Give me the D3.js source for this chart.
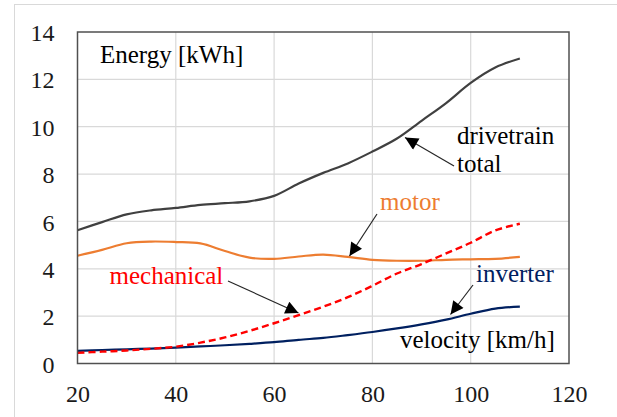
<!DOCTYPE html>
<html><head><meta charset="utf-8">
<script src="https://cdn.jsdelivr.net/npm/d3@7"></script>
</head><body style="margin:0">
<svg id="chart" width="617" height="417"></svg>
<script>
const velocity = [20,25,30,35,40,45,50,55,60,65,70,75,80,85,90,95,100,105,110];
const drivetrain = [5.63,5.97,6.3,6.47,6.57,6.7,6.77,6.85,7.08,7.6,8.05,8.45,8.95,9.5,10.25,11.0,11.85,12.5,12.88];
const motor = [4.55,4.8,5.08,5.15,5.13,5.07,4.75,4.47,4.42,4.52,4.6,4.5,4.38,4.34,4.34,4.38,4.4,4.42,4.5];
const mechanical = [0.45,0.5,0.55,0.62,0.71,0.88,1.1,1.38,1.7,2.04,2.4,2.8,3.28,3.8,4.2,4.65,5.1,5.62,5.9];
const inverter = [0.53,0.57,0.6,0.63,0.67,0.72,0.77,0.83,0.9,1.0,1.08,1.2,1.33,1.48,1.65,1.85,2.1,2.32,2.4];
const xTicks = [20,40,60,80,100,120];
const yTicks = [0,2,4,6,8,10,12,14];

const svg = d3.select("#chart");
const font = "'Liberation Serif', 'Times New Roman', Tinos, serif";
const L = 77.5, R = 569, T = 32, B = 363.5;
const x = d3.scaleLinear().domain([20,120]).range([L,R]);
const y = d3.scaleLinear().domain([0,14]).range([B,T]);

svg.append("rect").attr("x",14.5).attr("y",4.5).attr("width",640).attr("height",440)
  .attr("fill","none").attr("stroke","#d9d9d9").attr("stroke-width",1);

svg.append("g").selectAll("line").data(xTicks.slice(1,-1)).join("line")
  .attr("x1",d=>x(d)).attr("x2",d=>x(d)).attr("y1",T).attr("y2",B)
  .attr("stroke","#d9d9d9").attr("stroke-width",1.2);
svg.append("g").selectAll("line").data(yTicks.slice(1,-1)).join("line")
  .attr("x1",L).attr("x2",R).attr("y1",d=>y(d)).attr("y2",d=>y(d))
  .attr("stroke","#d9d9d9").attr("stroke-width",1.2);

const xAxis = svg.append("g").attr("transform",`translate(0,${B})`)
  .call(d3.axisBottom(x).tickValues(xTicks).tickSize(0).tickPadding(0));
xAxis.select(".domain").remove();
xAxis.attr("font-family",font).attr("font-size",24);
xAxis.selectAll("text").attr("y",38.5).attr("dy",0).attr("fill","#1a1a1a")
  .style("font-family",font,"important").style("font-size","24px","important");
const yAxis = svg.append("g").attr("transform",`translate(${L},0)`)
  .call(d3.axisLeft(y).tickValues(yTicks).tickSize(0).tickPadding(0));
yAxis.select(".domain").remove();
yAxis.attr("font-family",font).attr("font-size",24);
yAxis.selectAll("text").attr("x",-23).attr("dy","0.36em").attr("fill","#1a1a1a")
  .style("font-family",font,"important").style("font-size","24px","important");

const line = d3.line().x((d,i)=>x(velocity[i])).y(d=>y(d)).curve(d3.curveCatmullRom.alpha(0.5));
const series = [
  {v:drivetrain, c:"#404040", w:2.2},
  {v:motor, c:"#ed7d31", w:2.2},
  {v:inverter, c:"#002060", w:2.2},
  {v:mechanical, c:"#ff0000", w:2.4, dash:"7,4"}
];
series.forEach(s=>{
  svg.append("path").attr("d",line(s.v)).attr("fill","none").attr("stroke",s.c)
    .attr("stroke-width",s.w).attr("stroke-dasharray",s.dash||null);
});

svg.append("rect").attr("x",L).attr("y",T).attr("width",R-L).attr("height",B-T)
  .attr("fill","none").attr("stroke","#505050").attr("stroke-width",1.5);

svg.append("defs").append("marker").attr("id","ah").attr("viewBox","0 0 10 10")
  .attr("refX",10).attr("refY",5).attr("markerWidth",15).attr("markerHeight",13)
  .attr("markerUnits","userSpaceOnUse").attr("orient","auto")
  .append("path").attr("d","M0,0 L10,5 L0,10 Z").attr("fill","#000");
const arrows = [
  [454,166,405,137.5],
  [377,214,349.5,256],
  [228,281,298.5,313],
  [473,285,450.5,314.5]
];
svg.append("g").selectAll("line").data(arrows).join("line")
  .attr("x1",d=>d[0]).attr("y1",d=>d[1]).attr("x2",d=>d[2]).attr("y2",d=>d[3])
  .attr("stroke","#262626").attr("stroke-width",1.2).attr("marker-end","url(#ah)");

const labels = [
  {t:"Energy [kWh]", x:100, y:63, c:"#000"},
  {t:"drivetrain", x:457, y:143.5, c:"#000"},
  {t:"total", x:457, y:172, c:"#000"},
  {t:"motor", x:380, y:210, c:"#ed7d31"},
  {t:"mechanical", x:109.5, y:283.5, c:"#ff0000"},
  {t:"inverter", x:476, y:282, c:"#002060"},
  {t:"velocity [km/h]", x:400, y:347.5, c:"#000"}
];
svg.append("g").selectAll("text").data(labels).join("text")
  .attr("x",d=>d.x).attr("y",d=>d.y).attr("fill",d=>d.c)
  .attr("font-family",font).attr("font-size",25)
  .style("font-family",font,"important").style("font-size","25px","important")
  .text(d=>d.t);
</script>
</body></html>
